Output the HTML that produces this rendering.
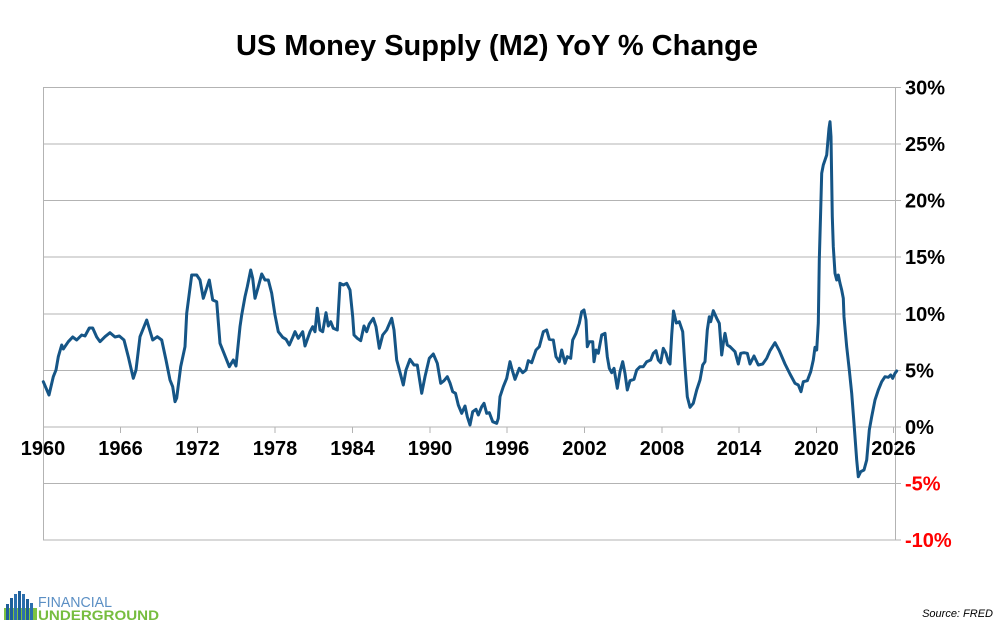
<!DOCTYPE html>
<html>
<head>
<meta charset="utf-8">
<style>
html,body{margin:0;padding:0;background:#fff;}
svg{display:block;}
text{font-family:"Liberation Sans",Arial,sans-serif;}
</style>
</head>
<body>
<svg width="996" height="624" viewBox="0 0 996 624" xmlns="http://www.w3.org/2000/svg">
<rect width="996" height="624" fill="#fff"/>
<text x="497" y="55" font-size="29" font-weight="bold" text-anchor="middle" fill="#000">US Money Supply (M2) YoY % Change</text>

<g stroke="#b3b3b3" stroke-width="1" fill="none">
<line x1="43" y1="87.5" x2="901" y2="87.5"/>
<line x1="43" y1="144" x2="901" y2="144"/>
<line x1="43" y1="200.5" x2="901" y2="200.5"/>
<line x1="43" y1="257" x2="901" y2="257"/>
<line x1="43" y1="314" x2="901" y2="314"/>
<line x1="43" y1="370.5" x2="901" y2="370.5"/>
<line x1="43" y1="427" x2="901" y2="427"/>
<line x1="43" y1="483.5" x2="901" y2="483.5"/>
<line x1="43" y1="540" x2="901" y2="540"/>
<line x1="43.5" y1="87" x2="43.5" y2="540"/>
<line x1="895.5" y1="87" x2="895.5" y2="540"/>
<line x1="120.5" y1="427" x2="120.5" y2="433"/>
<line x1="197.5" y1="427" x2="197.5" y2="433"/>
<line x1="275" y1="427" x2="275" y2="433"/>
<line x1="352.5" y1="427" x2="352.5" y2="433"/>
<line x1="430" y1="427" x2="430" y2="433"/>
<line x1="507" y1="427" x2="507" y2="433"/>
<line x1="584.5" y1="427" x2="584.5" y2="433"/>
<line x1="662" y1="427" x2="662" y2="433"/>
<line x1="739" y1="427" x2="739" y2="433"/>
<line x1="816.5" y1="427" x2="816.5" y2="433"/>
<line x1="893.5" y1="427" x2="893.5" y2="433"/>
</g>

<g font-size="20" font-weight="bold" fill="#000">
<text x="905" y="94.5">30%</text>
<text x="905" y="151">25%</text>
<text x="905" y="207.5">20%</text>
<text x="905" y="264">15%</text>
<text x="905" y="321">10%</text>
<text x="905" y="377.5">5%</text>
<text x="905" y="434">0%</text>
<text x="905" y="490.5" fill="#ff0000">-5%</text>
<text x="905" y="547" fill="#ff0000">-10%</text>
</g>

<g font-size="20" font-weight="bold" fill="#000" text-anchor="middle">
<text x="43" y="455">1960</text>
<text x="120.5" y="455">1966</text>
<text x="197.5" y="455">1972</text>
<text x="275" y="455">1978</text>
<text x="352.5" y="455">1984</text>
<text x="430" y="455">1990</text>
<text x="507" y="455">1996</text>
<text x="584.5" y="455">2002</text>
<text x="662" y="455">2008</text>
<text x="739" y="455">2014</text>
<text x="816.5" y="455">2020</text>
<text x="893.5" y="455">2026</text>
</g>

<polyline fill="none" stroke="#155586" stroke-width="3" stroke-linejoin="round" stroke-linecap="round" points="
43.3,381.7 49,395 53.3,376.7 56,370 58.3,356.7 61.7,345 63.3,349 68.3,341.7 72.7,337 76.7,340 81.7,335 85,336 89.3,328 92.7,328 96.7,337 100,341.7 105,336.7 110,332.7 115,337 119.3,336 124,340 128.3,356.7 133.3,378.3 136,370 140,336.7 146.7,320 152.7,340 157.3,336.7 161.7,340 166,360 170,380 172.7,386.7 175,401.7 176.7,398 180.7,366.7 185,346.7 186.7,313.3 191.7,275 196.7,275 200,280 203.3,298.3 209.3,280 212.7,300 216.7,301.7 220,343.3 224,353.3 229.3,366.7 233.3,360 236,366 240,326.7 241.7,315 245,296.7 247.3,286.7 250.7,270 252.7,278.3 255,298.3 258.3,286.7 261.7,274 265,280 268.3,280 271.7,293.3 275,315 278.3,331.7 282.7,337.3 286,339.3 289.3,345 292.7,337.3 295,331.7 298.3,338.3 302.7,331.7 305,346 310,331.7 312.7,326.7 315,331.7 317.3,308.3 320,330 322.7,331.7 326,312.7 328.3,326 330.7,321.7 333.3,328.3 337.3,330 340,283.3 343.3,285 346.7,283.3 350,290 352.7,316.7 354,335 357.3,338.3 360.7,340.7 364,326 366.7,331.7 369.3,324 373.3,318.3 376,326.7 379.3,348.3 382.7,335 386.7,330 391.7,318.3 394,330 396.7,360 400.7,375 403.3,385 406,370 410,359.3 414,365 417.3,365 421.7,393.3 425,376.7 429.3,358.3 433.3,354 437.3,363.3 440.7,383.3 444,380.7 447.3,376.7 450,383 452.7,391.7 455.5,393.3 458.3,405 461.7,413.3 465,406 467.3,416.7 470,425 472.7,411.7 476,409.3 478.3,415 481.7,406.7 484,403.3 486.7,413.3 489.3,412.7 492.7,421.7 496.7,423.3 498.3,418.3 500,396.7 503.3,386.7 506.7,378.3 510,361.7 511.7,368.3 515,379.3 519.3,368.3 522.7,372.7 526,370 528.3,360.7 531.7,362.7 536,350 539.3,346.7 543.3,331.7 546.7,330 549.3,339.3 553.3,340 556,356.7 559.3,361.7 561.7,350 565,363.3 567.3,356.7 570.7,358.3 572.7,340 576,333.3 579.3,323.3 581.7,311.7 584,310 586,320 587.3,346.7 589.3,341.7 592.7,341.7 594,361.7 596,350 598.3,353.3 601.7,335 605,333.3 607.3,356.7 609.3,368.3 611.7,372.7 614,368.3 617.3,388.3 620,371.7 622.7,361.7 625,373.3 627.3,390 630,380.7 634,379.3 636.7,370 640,366.7 643.3,366.7 646.7,361.7 650.7,360 653.3,353.3 656,350.7 658.3,360 660.7,362.7 663.3,348.3 666,353.3 668.3,361.7 670,364 671.7,335 673.5,311 676.3,323 679.3,321.7 682.7,331.7 685,366.7 687.3,396.7 690,407.3 693.3,403.3 696.7,390 700,380 702.7,365 705,361.7 707.3,330 709.3,316.7 710.7,321.7 713.3,310.7 716.7,318.3 719.3,323.3 721.7,355 723.3,343.3 725,333.3 727.3,345 730,346.7 735,351.7 738.3,364 740.7,353.3 744,352.7 747.3,353.3 750,364 754,356 758.3,365 762.7,364 766.7,358.3 770,350.7 775,342.7 779.3,350.7 785,364 790,374 795,383.3 798.3,385 801,391.7 803.3,381.7 807.3,380.7 810.7,371.7 813.3,360 815,347.3 816.7,350 818.3,323 819.3,260 820.7,210 821.7,173.3 823.3,165 825,160 826.7,155 827.7,143.3 829,128.3 830,121.7 831,136.7 831.7,180 832.3,216.7 833.3,246.7 835,273.3 836.7,280 838.3,275 840,283.3 841.7,290 843.3,298.3 844,316.7 846.7,346.7 849.3,370 851.7,393.3 854,423.3 856.7,460 858.3,476.7 860.7,471.7 864,470 866.7,460 869.3,430 871.7,416.7 875,400 878.3,390 881.7,381.7 885,376.7 888.3,377.3 890.7,375 892.7,378.3 895,373.3 896.7,371"/>

<!-- logo -->
<g>
<rect x="4" y="608" width="33" height="12" fill="#7cc243"/>
<rect x="6" y="604" width="3" height="16" fill="#1f5f99"/>
<rect x="10" y="598" width="3" height="22" fill="#1f5f99"/>
<rect x="14" y="594" width="3" height="26" fill="#2c6fae"/>
<rect x="18" y="591" width="3" height="29" fill="#1f5f99"/>
<rect x="22" y="594" width="3" height="26" fill="#2c6fae"/>
<rect x="26" y="599" width="3" height="21" fill="#1f5f99"/>
<rect x="30" y="603" width="3" height="17" fill="#2c6fae"/>
<text x="38" y="607" font-size="15" fill="#5b8fc4" textLength="74" lengthAdjust="spacingAndGlyphs">FINANCIAL</text>
<text x="38" y="620" font-size="14" font-weight="bold" fill="#76bd3f" textLength="121" lengthAdjust="spacingAndGlyphs">UNDERGROUND</text>
</g>

<text x="993" y="617" font-size="11" font-style="italic" text-anchor="end" fill="#000">Source: FRED</text>
</svg>
</body>
</html>
